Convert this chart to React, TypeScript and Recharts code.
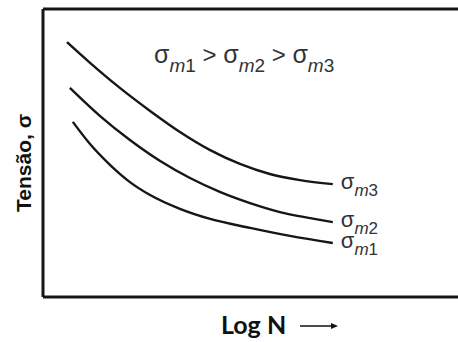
import { LineChart, Line, XAxis, YAxis, ReferenceLine } from 'recharts';

// fatigue curves: tension vs log N for three mean stresses (units)
const logN_m3 = [0.57, 1.12, 1.83, 2.55, 3.26, 3.98, 4.69, 5.4, 6.12, 6.9];
const sigma_m3 = [8.85, 8.13, 7.26, 6.46, 5.73, 5.1, 4.62, 4.27, 4.06, 3.92];

const logN_m2 = [0.64, 1.36, 2.07, 2.79, 3.5, 4.21, 4.93, 5.64, 6.36, 6.9];
const sigma_m2 = [7.26, 6.28, 5.45, 4.72, 4.13, 3.65, 3.26, 2.95, 2.74, 2.6];

const logN_m1 = [0.71, 1.12, 1.6, 2.07, 2.55, 3.26, 3.98, 4.93, 5.88, 6.9];
const sigma_m1 = [6.08, 5.31, 4.58, 3.99, 3.54, 3.06, 2.71, 2.4, 2.12, 1.875];

const seriesNames = ['1', '2', '3'];

const toPoints = (xs: number[], ys: number[]) => xs.map((x, i) => ({ x, y: ys[i] }));

const series = [
  { sub: seriesNames[2], data: toPoints(logN_m3, sigma_m3) },
  { sub: seriesNames[1], data: toPoints(logN_m2, sigma_m2) },
  { sub: seriesNames[0], data: toPoints(logN_m1, sigma_m1) },
];

const INK = '#161616';
const SANS = '"Liberation Sans", Arial, sans-serif';

// label at the end of each curve: σ with italic m + number as subscript
const endLabel = (sub: string, n: number) => (props: any) => {
  if (props.index !== n - 1) return <g />;
  return (
    <text x={props.x + 8} y={props.y + 5} fontSize={22} fontFamily={SANS} fill="#333">
      σ
      <tspan fontSize={17} dy={7} fontStyle="italic">m</tspan>
      <tspan fontSize={17}>{sub}</tspan>
    </text>
  );
};

const Annotation = (props: any) => {
  const vb = props.viewBox || { x: 43, y: 9 };
  return (
    <text x={vb.x + 111} y={vb.y + 54} fontSize={25} fontFamily={SANS} fill="#333">
      σ
      <tspan fontSize={19} dy={9} fontStyle="italic">m</tspan>
      <tspan fontSize={19}>1</tspan>
      <tspan fontSize={24} dy={-9}> &gt; </tspan>
      <tspan>σ</tspan>
      <tspan fontSize={19} dy={9} fontStyle="italic">m</tspan>
      <tspan fontSize={19}>2</tspan>
      <tspan fontSize={24} dy={-9}> &gt; </tspan>
      <tspan>σ</tspan>
      <tspan fontSize={19} dy={9} fontStyle="italic">m</tspan>
      <tspan fontSize={19}>3</tspan>
    </text>
  );
};

const YLabel = (props: any) => {
  const vb = props.viewBox;
  const cx = vb.x + 23;
  const cy = vb.y + vb.height / 2 + 10;
  return (
    <text
      x={cx}
      y={cy}
      transform={`rotate(-90 ${cx} ${cy})`}
      textAnchor="middle"
      dominantBaseline="central"
      fontSize={21}
      fontWeight={700}
      fontFamily={SANS}
      fill="#111"
    >
      Tensão, σ
    </text>
  );
};

const XLabel = (props: any) => {
  const vb = props.viewBox;
  const x0 = vb.x + 178;
  const y0 = vb.y + 37;
  return (
    <g>
      <text x={x0} y={y0} fontSize={25} fontWeight={700} fontFamily="Lato, sans-serif" fill="#111">
        Log N
      </text>
      <line x1={x0 + 79} y1={y0 - 8} x2={x0 + 114} y2={y0 - 8} stroke="#111" strokeWidth={1.5} />
      <path d={`M ${x0 + 110} ${y0 - 11} L ${x0 + 117} ${y0 - 8} L ${x0 + 110} ${y0 - 5} Z`} fill="#111" />
    </g>
  );
};

export default function App() {
  return (
    <div
      style={{
        position: 'absolute',
        left: 0,
        top: 0,
        width: 458,
        height: 342,
        overflow: 'hidden',
        background: '#fff',
      }}
    >
      <LineChart width={463} height={342} margin={{ top: 9, right: 0, left: 0, bottom: 0 }}>
        <XAxis
          type="number"
          dataKey="x"
          domain={[0, 10]}
          allowDataOverflow
          height={45}
          tick={false}
          tickLine={false}
          axisLine={{ stroke: INK, strokeWidth: 3 }}
          label={<XLabel />}
        />
        <YAxis
          type="number"
          dataKey="y"
          domain={[0, 10]}
          allowDataOverflow
          width={43}
          tick={false}
          tickLine={false}
          axisLine={{ stroke: INK, strokeWidth: 3 }}
          label={<YLabel />}
        />
        {/* top edge of the frame, carries the inequality note */}
        <ReferenceLine y={10} stroke={INK} strokeWidth={3} label={<Annotation />} />
        {series.map((s) => (
          <Line
            key={s.sub}
            data={s.data}
            dataKey="y"
            type="monotone"
            stroke={INK}
            strokeWidth={2.4}
            dot={false}
            activeDot={false}
            isAnimationActive={false}
            label={endLabel(s.sub, s.data.length)}
          />
        ))}
      </LineChart>
    </div>
  );
}
